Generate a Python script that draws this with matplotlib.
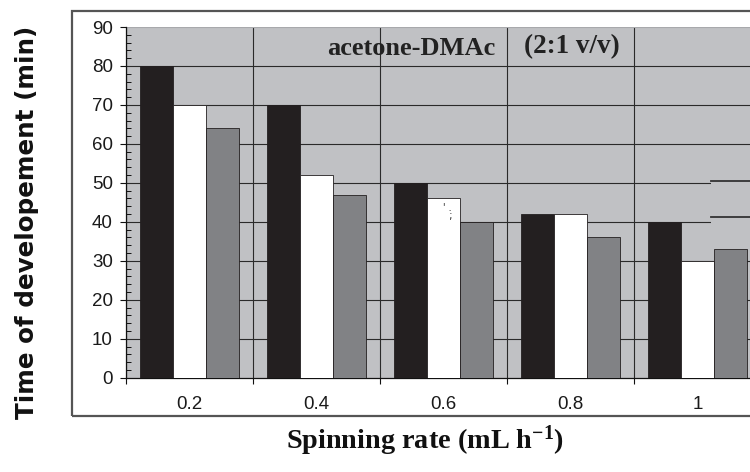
import matplotlib
matplotlib.use("Agg")
import matplotlib.pyplot as plt
from matplotlib.patches import Rectangle
from matplotlib.ticker import MultipleLocator, FixedLocator, NullFormatter, FixedFormatter
import numpy as np

plt.rcParams["mathtext.fontset"] = "custom"
plt.rcParams["mathtext.rm"] = "Liberation Serif:bold"
plt.rcParams["mathtext.bf"] = "Liberation Serif:bold"
plt.rcParams["mathtext.default"] = "rm"

# ---- data ----
categories = ["0.2", "0.4", "0.6", "0.8", "1"]
series_black = [80, 70, 50, 42, 40]
series_white = [70, 52, 46, 42, 30]
series_gray = [64, 47, 40, 36, 33]
yticks = [0, 10, 20, 30, 40, 50, 60, 70, 80, 90]

BLACK = "#231f20"
WHITE = "#ffffff"
GRAY = "#818285"
BG = "#c0c1c4"
GRID = "#2a2a2a"

fig = plt.figure(figsize=(7.5, 4.72), dpi=100)
W, H = 750, 472

# outer frame (figure coordinates)
frame = Rectangle((72 / W, 1 - 416 / H), 700 / W, (416 - 11) / H,
                  transform=fig.transFigure, fill=False,
                  edgecolor="#555555", linewidth=1.6, zorder=0)
fig.patches.append(frame)

ax_left, ax_right = 126, 761
ax_top, ax_bottom = 27, 377.7
ax = fig.add_axes([ax_left / W, 1 - ax_bottom / H,
                   (ax_right - ax_left) / W, (ax_bottom - ax_top) / H])
ax.set_facecolor(BG)

n = len(categories)
x = np.arange(n) + 0.5
bw = 0.26
ax.bar(x - bw, series_black, bw, color=BLACK, edgecolor=BLACK, linewidth=0.6, zorder=3)
ax.bar(x, series_white, bw, color=WHITE, edgecolor=BLACK, linewidth=0.6, zorder=3)
ax.bar(x + bw, series_gray, bw, color=GRAY, edgecolor=BLACK, linewidth=0.6, zorder=3)

ax.set_xlim(0, n)
ax.set_ylim(0, 90)

# grid
ax.set_axisbelow(True)
ax.yaxis.set_major_locator(FixedLocator(yticks))
ax.yaxis.set_minor_locator(MultipleLocator(2))
ax.xaxis.set_major_locator(FixedLocator(np.arange(n + 1)))
ax.xaxis.set_major_formatter(NullFormatter())
ax.xaxis.set_minor_locator(FixedLocator(x))
ax.xaxis.set_minor_formatter(FixedFormatter(categories))
ax.grid(True, which="major", axis="both", color=GRID, linewidth=0.8, zorder=1)
fig.canvas.draw()
for gl in ax.yaxis.get_gridlines():
    yv = gl.get_ydata()[0]
    if abs(yv - 90) < 1e-6 or abs(yv) < 1e-6:
        gl.set_visible(False)

# spines
for s in ("top", "right"):
    ax.spines[s].set_visible(False)
ax.spines["left"].set_color("#111111")
ax.spines["left"].set_linewidth(0.9)
ax.spines["bottom"].set_color("#111111")
ax.spines["bottom"].set_linewidth(0.9)
ax.axhline(90, color="#a8a9ac", linewidth=0.8, zorder=1)

# ticks
ax.tick_params(axis="y", which="major", direction="out", length=4.5, width=0.8,
               color="#111111", labelsize=13.5, pad=5)
ax.tick_params(axis="y", which="minor", direction="in", length=3.5, width=0.7,
               color="#111111")
ax.tick_params(axis="x", which="major", direction="out", length=4, width=0.8,
               color="#111111")
ax.tick_params(axis="x", which="minor", length=0, labelsize=13.5, pad=13)
for lab in ax.get_yticklabels() + ax.get_xticklabels(minor=True):
    lab.set_family("Liberation Sans")
    lab.set_color("#1a1a1a")

# stray legend-box remnant at right
ax.add_patch(Rectangle((4.606, 39.0), 0.6, 11.6, facecolor=BG, edgecolor="none", zorder=2))
ax.plot([4.606, 5.0], [50.6, 50.6], color="#333333", linewidth=1.3, zorder=2)
ax.plot([4.606, 5.0], [41.2, 41.2], color="#333333", linewidth=1.3, zorder=2)

# small artifact marks in white bar of 0.6
ax.text(2.53, 42.5, "' .\n  ;", fontsize=7, color="#222222",
        ha="center", va="center", zorder=4, linespacing=0.8)

# annotation texts
ax.text(1.58, 84.6, "acetone-DMAc", family="Liberation Serif", fontweight="bold",
        fontsize=19, ha="left", va="center", color="#222222", zorder=4)
ax.text(3.13, 85.0, "(2:1 v/v)", family="Liberation Serif", fontweight="bold",
        fontsize=19.5, ha="left", va="center", color="#222222", zorder=4)

# axis labels
fig.text(27 / W, 1 - 222 / H, "Time of developement (min)", rotation=90,
         family="DejaVu Sans", fontweight="bold", fontsize=17.7,
         ha="center", va="center", color="#111111")
fig.text(425 / W, 1 - 441 / H, r"Spinning rate (mL h$^{-1}$)",
         family="Liberation Serif", fontweight="bold", fontsize=20.3,
         ha="center", va="center", color="#111111")

fig.savefig("out.png", dpi=100)
